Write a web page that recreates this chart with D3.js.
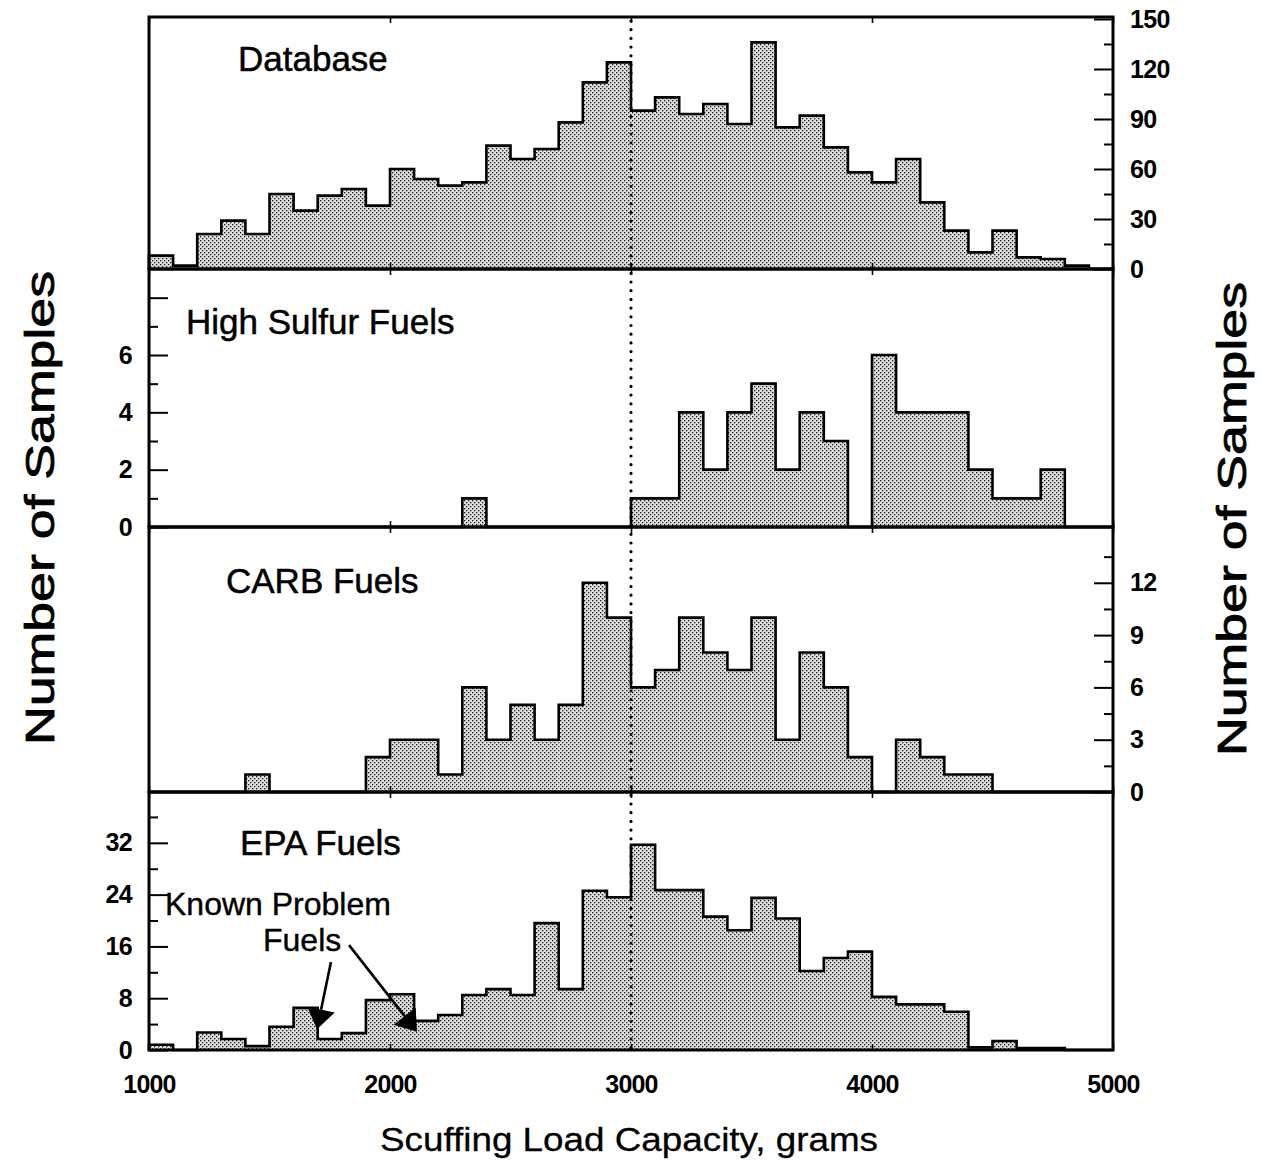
<!DOCTYPE html>
<html><head><meta charset="utf-8">
<script src="https://cdn.jsdelivr.net/npm/d3@7"></script>
<style>
body{margin:0;background:#fff}
text{font-family:"Liberation Sans",Arial,Helvetica,sans-serif;fill:#000}
</style>
</head><body>
<svg id="chart" width="1262" height="1161"></svg>
<script>
// ---------- DATA ----------
const binStarts = [1000,1100,1200,1300,1400,1500,1600,1700,1800,1900,
                   2000,2100,2200,2300,2400,2500,2600,2700,2800,2900,
                   3000,3100,3200,3300,3400,3500,3600,3700,3800,3900,
                   4000,4100,4200,4300,4400,4500,4600,4700,4800,4900];
const binWidth = 100;
const panelNames = ["Database","High Sulfur Fuels","CARB Fuels","EPA Fuels"];
const databaseCounts = [8,2,21,29,21,45,35,44,48,38,
                        60,54,50,52,74,66,72,88,112,124,
                        95,103,93,99,87,136,85,92,73,58,
                        52,66,40,23,10,23,7,6,2,0];
const highSulfurCounts = [0,0,0,0,0,0,0,0,0,0,
                          0,0,0,1,0,0,0,0,0,0,
                          1,1,4,2,4,5,2,4,3,0,
                          6,4,4,4,2,1,1,2,0,0];
const carbCounts = [0,0,0,0,1,0,0,0,0,2,
                    3,3,1,6,3,5,3,5,12,10,
                    6,7,10,8,7,10,3,8,6,2,
                    0,3,2,1,1,0,0,0,0,0];
const epaCounts = [0.8,0,2.7,1.7,0.6,3.6,6.5,1.7,2.6,7.7,
                   8.6,4.5,5.4,8.5,9.4,8.5,19.6,9.4,24.6,23.6,
                   31.7,24.7,24.7,20.6,18.5,23.5,20.3,12.2,14.2,15.2,
                   8.2,7.05,7.05,5.9,0.4,1.4,0.3,0.3,0,0];
const xTickValues = [1000,2000,3000,4000,5000];
const dbMajorTicks = [0,30,60,90,120,150];
const dbMinorTicks = [15,45,75,105,135];
const hsMajorTicks = [0,2,4,6,8];
const hsTickLabels = [0,2,4,6];
const hsMinorTicks = [1,3,5,7];
const carbMajorTicks = [0,3,6,9,12];
const carbMinorTicks = [1.5,4.5,7.5,10.5,13.5];
const epaMajorTicks = [0,8,16,24,32];
const epaMinorTicks = [4,12,20,28,36];
const referenceLoad = 3000;
const yAxisTitle = "Number of Samples";
const xAxisTitle = "Scuffing Load Capacity, grams";
const annotationLines = ["Known Problem","Fuels"];
// arrows in EPA-panel data units: [load, count]
const arrowFrom = [[1755,13.6],[1830,16.2]];
const arrowTo   = [[1697,3.2],[2112,2.8]];

// ---------- LAYOUT ----------
const svg = d3.select("#chart");
const x = d3.scaleLinear().domain([1000,5000]).range([149,1113]);
const panels = [
  {name:panelNames[0], counts:databaseCounts,  top:17,  bottom:269, max:151.2, side:"right", major:dbMajorTicks, minor:dbMinorTicks, labels:dbMajorTicks, tx:238, ty:71},
  {name:panelNames[1], counts:highSulfurCounts,top:269, bottom:527, max:9,     side:"left",  major:hsMajorTicks, minor:hsMinorTicks, labels:hsTickLabels, tx:186, ty:334},
  {name:panelNames[2], counts:carbCounts,      top:527, bottom:792, max:15.2,  side:"right", major:carbMajorTicks, minor:carbMinorTicks, labels:carbMajorTicks, tx:226, ty:593},
  {name:panelNames[3], counts:epaCounts,       top:792, bottom:1050,max:39.85, side:"left",  major:epaMajorTicks, minor:epaMinorTicks, labels:epaMajorTicks, tx:240, ty:855}
];

const defs = svg.append("defs");
const pat = defs.append("pattern").attr("id","stip")
  .attr("patternUnits","userSpaceOnUse").attr("width",4).attr("height",4);
pat.append("rect").attr("width",4).attr("height",4).attr("fill","#dedede");
pat.append("rect").attr("x",0).attr("y",0).attr("width",1.3).attr("height",1.3).attr("fill","#1a1a1a");
pat.append("rect").attr("x",2).attr("y",2).attr("width",1.3).attr("height",1.3).attr("fill","#1a1a1a");

const line = d3.line();

panels.forEach((p,i)=>{
  const y = d3.scaleLinear().domain([0,p.max]).range([p.bottom,p.top]);
  p.y = y;
  const g = svg.append("g");
  const bins = binStarts.map((s,k)=>({s, v:p.counts[k]}));
  g.selectAll("rect.bar").data(bins.filter(d=>d.v>0)).join("rect")
    .attr("class","bar")
    .attr("x",d=>x(d.s)).attr("width",d=>x(d.s+binWidth)-x(d.s))
    .attr("y",d=>y(d.v)).attr("height",d=>y(0)-y(d.v))
    .attr("fill","url(#stip)");
  const pts = [[x(binStarts[0]),y(0)]];
  bins.forEach(d=>{ pts.push([x(d.s),y(d.v)]); pts.push([x(d.s+binWidth),y(d.v)]); });
  pts.push([x(binStarts[binStarts.length-1]+binWidth),y(0)]);
  g.append("path").attr("d",line(pts)).attr("fill","none")
    .attr("stroke","#000").attr("stroke-width",2.6).attr("stroke-linejoin","miter");

  const axisX = p.side==="right" ? x(5000) : x(1000);
  const mk = p.side==="right" ? d3.axisRight : d3.axisLeft;
  const major = mk(y).tickValues(p.major).tickSize(-19).tickPadding(17)
      .tickFormat(v=>p.labels.includes(v)?String(v):"");
  const minor = mk(y).tickValues(p.minor).tickSize(-9).tickFormat("");
  [major,minor].forEach(ax=>{
    const a = g.append("g").attr("transform",`translate(${axisX},0)`).call(ax);
    a.select(".domain").remove();
    a.selectAll("line").attr("stroke","#000").attr("stroke-width",2);
    a.selectAll("text").attr("font-size",25).attr("font-weight","bold")
      .attr("letter-spacing",-0.6)
      .style("font-family",'"Liberation Sans",Arial,sans-serif');
  });

  const xb = g.append("g").attr("transform",`translate(0,${p.bottom})`)
    .call(d3.axisBottom(x).tickValues(xTickValues).tickSize(-6)
      .tickPadding(25).tickFormat(i===panels.length-1 ? d3.format("d") : ""));
  xb.select(".domain").remove();
  xb.selectAll("line").attr("stroke","#000").attr("stroke-width",1.6);
  xb.selectAll("text").attr("font-size",25).attr("font-weight","bold")
    .attr("letter-spacing",-0.8)
    .style("font-family",'"Liberation Sans",Arial,sans-serif');
  const xt = g.append("g").attr("transform",`translate(0,${p.top})`)
    .call(d3.axisTop(x).tickValues(xTickValues).tickSize(-6).tickFormat(""));
  xt.select(".domain").remove();
  xt.selectAll("line").attr("stroke","#000").attr("stroke-width",1.6);

  g.append("rect").attr("x",x(1000)).attr("y",p.top)
    .attr("width",x(5000)-x(1000)).attr("height",p.bottom-p.top)
    .attr("fill","none").attr("stroke","#000").attr("stroke-width",3);

  g.append("text").attr("x",p.tx).attr("y",p.ty).attr("font-size",35)
    .attr("stroke","#000").attr("stroke-width",0.5).text(p.name);
});

svg.append("line")
  .attr("x1",x(referenceLoad)).attr("x2",x(referenceLoad))
  .attr("y1",panels[0].top+4).attr("y2",panels[3].bottom)
  .attr("stroke","#000").attr("stroke-width",3.2)
  .attr("stroke-linecap","round").attr("stroke-dasharray","0,8.7");

const epa = panels[3];
svg.append("text").attr("x",165).attr("y",915).attr("font-size",32)
  .attr("stroke","#000").attr("stroke-width",0.4).text(annotationLines[0]);
svg.append("text").attr("x",263).attr("y",951).attr("font-size",32)
  .attr("stroke","#000").attr("stroke-width",0.4).text(annotationLines[1]);
arrowFrom.forEach((f,k)=>{
  const t = arrowTo[k];
  const x1 = x(f[0]), y1 = epa.y(f[1]), x2 = x(t[0]), y2 = epa.y(t[1]);
  const dx = x2-x1, dy = y2-y1, L = Math.hypot(dx,dy), ux = dx/L, uy = dy/L;
  const hl = 20, hw = 14;
  const bx = x2-ux*hl, by = y2-uy*hl;
  svg.append("line").attr("x1",x1).attr("y1",y1).attr("x2",bx).attr("y2",by)
    .attr("stroke","#000").attr("stroke-width",2.6);
  svg.append("path")
    .attr("d",line([[x2,y2],[bx-uy*hw,by+ux*hw],[bx+uy*hw,by-ux*hw]])+"Z")
    .attr("fill","#000");
});

svg.append("text").attr("transform","translate(54,508) rotate(-90)")
  .attr("text-anchor","middle").attr("font-size",40)
  .attr("textLength",474).attr("lengthAdjust","spacingAndGlyphs")
  .attr("stroke","#000").attr("stroke-width",0.8).text(yAxisTitle);
svg.append("text").attr("transform","translate(1246,519) rotate(-90)")
  .attr("text-anchor","middle").attr("font-size",40)
  .attr("textLength",474).attr("lengthAdjust","spacingAndGlyphs")
  .attr("stroke","#000").attr("stroke-width",0.8).text(yAxisTitle);
svg.append("text").attr("x",629).attr("y",1151).attr("text-anchor","middle")
  .attr("font-size",34).attr("textLength",498).attr("lengthAdjust","spacingAndGlyphs")
  .attr("stroke","#000").attr("stroke-width",0.3).text(xAxisTitle);
</script>
</body></html>
